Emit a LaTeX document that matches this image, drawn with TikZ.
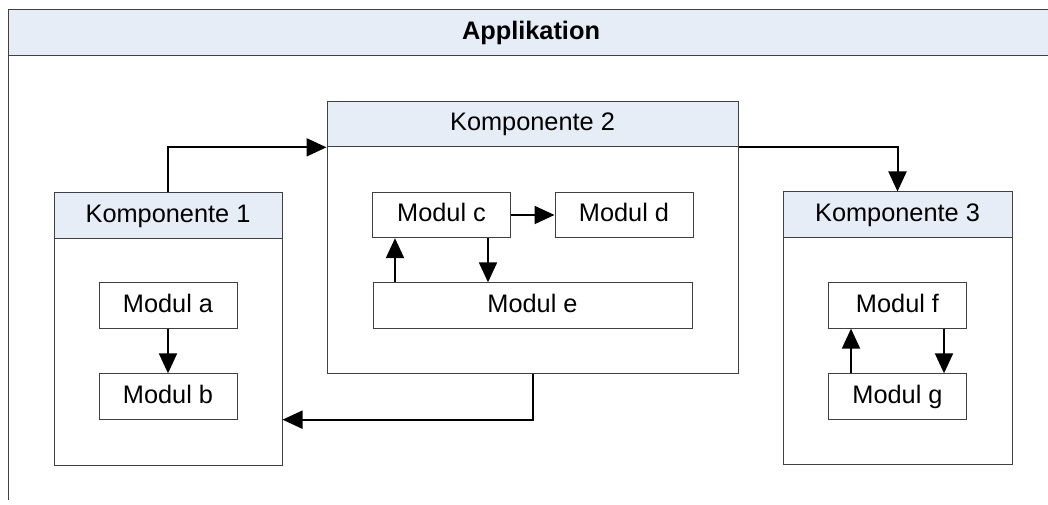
\documentclass[tikz,border=0pt]{standalone}
\usepackage{fontspec}
\setmainfont{Liberation Sans}
\usetikzlibrary{arrows.meta}
\definecolor{headblue}{RGB}{230,237,247}
\definecolor{framegray}{RGB}{64,64,64}
\tikzset{
  box/.style={draw=framegray, line width=0.75pt, fill=white, inner sep=0pt,
    font=\fontsize{19}{23}\selectfont, text height=14pt, text depth=4pt},
  modul/.style={box, minimum width=103.5pt, minimum height=34pt},
  kopf/.style={box, fill=headblue, minimum height=34pt},
  arr/.style={line width=1.5pt, -{Triangle[length=15pt,width=13.5pt]}}
}
\begin{document}
\begin{tikzpicture}[x=0.75pt,y=-0.75pt]
    \useasboundingbox (0,0) rectangle (1048,505);
    % Applikation frame, open to the right and bottom
    \fill[headblue] (8,10) rectangle (1048,56);
    \draw[framegray, line width=0.75pt] (1048,10) -- (8,10) -- (8,500);
    \draw[framegray, line width=0.75pt] (8,56) -- (1048,56);
    \node[font=\bfseries\fontsize{19}{23}\selectfont] (app) at (531,33) {Applikation};
    \foreach \n/\x/\y/\w in {1/168/329/171, 2/532.5/237.5/308.25, 3/897.5/328/171.75}{% body and header
        \node[box, minimum width=\w pt, minimum height=204pt] (k\n) at (\x,\y) {};
        \node[kopf, minimum width=\w pt, anchor=north] (kopf\n) at (k\n.north) {Komponente \n};
    }
    \foreach \n/\x/\y in {a/168/305.5, b/168/396.5, c/441.5/215, d/624/215, f/897.5/305.5, g/897.5/396.5}{%
        \node[modul] (m\n) at (\x,\y) {Modul \n};
    }
    \node[modul, minimum width=239.25pt] (me) at (532.5,305.5) {Modul e};
    % connectors between components
    \draw[arr] (kopf1.north) |- (kopf2.south west);
    \draw[arr] (kopf2.south east) -| (kopf3.north);
    \draw[arr] (k2.south) |- (k1.east |- mb.south);
    % connectors between modules
    \coordinate (cl) at ([xshift=17.25pt]mc.south west);
    \coordinate (cr) at ([xshift=-17.25pt]mc.south east);
    \coordinate (fl) at ([xshift=17.25pt]mf.south west);
    \coordinate (fr) at ([xshift=-17.25pt]mf.south east);
    \draw[arr] (ma) -- (mb);
    \draw[arr] (mc) -- (md);
    \draw[arr] (cr) -- (cr |- me.north);
    \draw[arr] (cl |- me.north) -- (cl);
    \draw[arr] (fr) -- (fr |- mg.north);
    \draw[arr] (fl |- mg.north) -- (fl);
\end{tikzpicture}
\end{document}
